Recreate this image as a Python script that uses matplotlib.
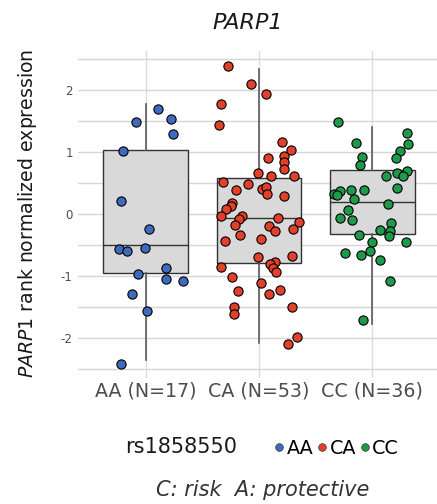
import matplotlib
matplotlib.use('Agg')
import matplotlib.pyplot as plt
from matplotlib.lines import Line2D
import numpy as np

plt.rcParams['font.family'] = ['DejaVu Sans']
plt.rcParams['mathtext.fontset'] = 'dejavusans'
plt.rcParams['axes.unicode_minus'] = False

# ---------------- data ----------------
categories = ['AA', 'CA', 'CC']
counts = [17, 53, 36]
tick_labels = ['AA (N=17)', 'CA (N=53)', 'CC (N=36)']
y_ticks = [-2, -1, 0, 1, 2]
y_tick_labels = ['-2', '-1', '0', '1', '2']
colors = ['#3E6BBE', '#E2402A', '#1E9A4A']

aa_values = [1.70, 1.54, 1.48, 1.29, 1.01, 0.21, -0.24, -0.56, -0.59, -0.55,
             -0.87, -0.97, -1.05, -1.08, -1.29, -1.57, -2.43]
aa_jitter = [0.11, 0.22, -0.09, 0.24, -0.20, -0.22, 0.03, -0.24, -0.17, -0.01,
             0.18, -0.07, 0.18, 0.33, -0.12, 0.01, -0.22]

ca_values = [2.39, 2.10, 1.94, 1.77, 1.44, 1.17, 1.03, 0.91, 0.94, 0.84,
             0.72, 0.66, 0.61, 0.62, 0.52, 0.49, 0.38, 0.40, 0.43, 0.32,
             0.29, 0.17, 0.13, 0.08, -0.03, -0.04, -0.08, -0.07, -0.13, -0.17,
             -0.19, -0.28, -0.25, -0.34, -0.41, -0.43, -0.69, -0.68, -0.77, -0.81,
             -0.88, -0.94, -0.85, -1.02, -1.12, -1.25, -1.29, -1.23, -1.51, -1.61,
             -1.51, -1.99, -2.10]
ca_jitter = [-0.27, -0.07, 0.06, -0.34, -0.35, 0.20, 0.28, 0.08, 0.22, 0.22,
             0.22, -0.01, 0.11, 0.31, -0.32, -0.10, -0.20, 0.03, 0.06, 0.07,
             0.22, -0.24, -0.25, -0.29, -0.34, -0.15, -0.18, 0.17, 0.35, -0.21,
             0.09, 0.14, 0.30, -0.17, 0.02, -0.30, -0.01, 0.29, 0.14, 0.10,
             0.12, 0.15, -0.34, -0.24, 0.02, -0.19, 0.09, 0.19, -0.22, -0.22,
             0.29, 0.34, 0.26]

cc_values = [1.49, 1.31, 1.13, 1.15, 1.02, 0.90, 0.92, 0.79, 0.69, 0.66,
             0.62, 0.61, 0.42, 0.32, 0.37, 0.30, 0.39, 0.39, 0.25, 0.16,
             0.07, -0.07, -0.09, -0.15, -0.26, -0.27, -0.36, -0.34, -0.46, -0.46,
             -0.63, -0.67, -0.60, -0.74, -1.08, -1.71]
cc_jitter = [-0.30, 0.31, 0.32, -0.14, 0.25, 0.21, -0.09, -0.11, 0.31, 0.22,
             0.27, 0.12, 0.22, -0.34, -0.28, -0.31, -0.19, -0.07, -0.16, 0.14,
             -0.21, -0.28, -0.18, 0.17, 0.07, 0.16, 0.15, -0.12, 0.00, 0.30,
             -0.24, -0.10, -0.02, 0.07, 0.16, -0.08]

box_q1 = [-0.96, -0.79, -0.33]
box_median = [-0.50, -0.06, 0.20]
box_q3 = [1.03, 0.58, 0.71]
whisker_low = [-2.36, -2.08, -1.78]
whisker_high = [1.78, 2.35, 1.41]

group_values = [aa_values, ca_values, cc_values]
group_jitter = [aa_jitter, ca_jitter, cc_jitter]

# ---------------- figure ----------------
fig = plt.figure(figsize=(4.37, 5.04), dpi=100)
ax = fig.add_axes([78 / 437, 1 - 378 / 504, 362 / 437, 327 / 504])

stats = []
for i in range(3):
    stats.append(dict(med=box_median[i], q1=box_q1[i], q3=box_q3[i],
                      whislo=whisker_low[i], whishi=whisker_high[i], fliers=[]))
ax.bxp(stats, positions=range(3), widths=0.75, patch_artist=True,
       showcaps=False, showfliers=False,
       boxprops=dict(facecolor='#d9d9d9', edgecolor='#333333', linewidth=1.0),
       medianprops=dict(color='#333333', linewidth=1.0),
       whiskerprops=dict(color='#5a5a5a', linewidth=1.2))

for i in range(3):
    xs = i + np.array(group_jitter[i])
    ax.scatter(xs, group_values[i], s=44, c=colors[i], edgecolors='black',
               linewidths=0.8, zorder=3)

ax.set_xlim(-0.6, 2.6)
ax.set_ylim(-2.649, 2.633)
ax.set_xticks(range(3))
ax.set_xticklabels(tick_labels, fontsize=13.7, color='#4d4d4d')
ax.set_yticks(y_ticks)
ax.set_yticklabels(y_tick_labels, fontsize=8.5, color='#4d4d4d')
ax.set_yticks(np.arange(-2.5, 2.51, 0.5), minor=True)
ax.tick_params(which='both', length=0)
ax.tick_params(axis='x', pad=2.5)
ax.tick_params(axis='y', pad=3.8)
ax.grid(axis='y', which='both', color='#d6d6d6', linewidth=1.0)
ax.grid(axis='x', which='major', color='#dddddd', linewidth=1.0)
ax.set_axisbelow(True)
for s in ax.spines.values():
    s.set_visible(False)

fig.text(248 / 437, 1 - 23 / 504, 'PARP1', fontsize=16, style='italic',
         color='#1a1a1a', ha='center', va='center')
fig.text(28 / 437, 1 - 213 / 504, r'$\mathit{PARP1}$ rank normalized expression',
         fontsize=13.6, rotation=90, ha='center', va='center', color='#1a1a1a')

fig.text(125 / 437, 1 - 447 / 504, 'rs1858550', fontsize=15, ha='left',
         va='center', color='#1a1a1a')
handles = [Line2D([], [], marker='o', linestyle='none', markersize=5.5,
                  markerfacecolor=c, markeredgecolor='#333333',
                  markeredgewidth=0.5) for c in colors]
fig.legend(handles, categories, loc='center left',
           bbox_to_anchor=(275 / 437, 1 - 448 / 504), ncol=3, frameon=False,
           fontsize=13.8, handlelength=0.4, handletextpad=0.2,
           columnspacing=0.25, borderpad=0, borderaxespad=0)

fig.text(262.5 / 437, 1 - 490 / 504, 'C: risk  A: protective', fontsize=15,
         style='italic', ha='center', va='center', color='#333333')

fig.savefig('out.png', dpi=100)
